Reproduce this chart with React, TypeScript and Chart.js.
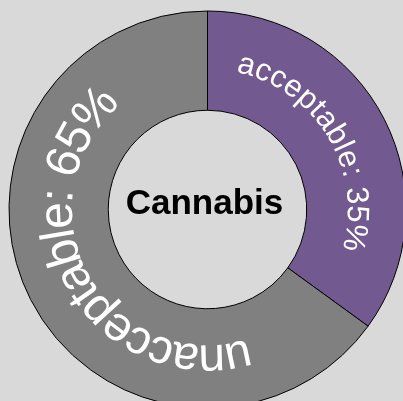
import React, { useEffect, useRef } from "react";
import { Chart, registerables } from "chart.js";

Chart.register(...registerables);

const categories = ["acceptable", "unacceptable"];
const values = [35, 65];
const colors = ["#72598f", "#808080"];
const labelFontSizes = [31, 48];
const labelSpacing = [1.1, 0];
const labelAngleShiftDeg = [-4, -1.5];
const centerTitle = "Cannabis";

const curvedLabels = {
  id: "curvedLabels",
  afterDatasetsDraw(chart: any) {
    const ctx = chart.ctx;
    const meta = chart.getDatasetMeta(0);
    meta.data.forEach((arc: any, i: number) => {
      const { x, y, startAngle, endAngle, innerRadius, outerRadius } = arc.getProps(
        ["x", "y", "startAngle", "endAngle", "innerRadius", "outerRadius"],
        true
      );
      const r = (innerRadius + outerRadius) / 2;
      const mid = (startAngle + endAngle) / 2 + (labelAngleShiftDeg[i] * Math.PI) / 180;
      const text = `${categories[i]}: ${values[i]}%`;
      const sp = labelSpacing[i];
      ctx.save();
      ctx.font = `${labelFontSizes[i]}px "Liberation Sans", Arial, sans-serif`;
      ctx.fillStyle = "#ffffff";
      ctx.textAlign = "center";
      ctx.textBaseline = "middle";
      const total = ctx.measureText(text).width + sp * (text.length - 1);
      const start = mid - total / 2 / r;
      for (let k = 0; k < text.length; k++) {
        const ch = text[k];
        const off = ctx.measureText(text.slice(0, k)).width + sp * k;
        const w = ctx.measureText(ch).width;
        const a = start + (off + w / 2) / r;
        ctx.save();
        ctx.translate(x + r * Math.cos(a), y + r * Math.sin(a));
        ctx.rotate(a + Math.PI / 2);
        ctx.fillText(ch, 0, 0);
        ctx.restore();
      }
      ctx.restore();
    });
    const first = meta.data[0];
    if (first) {
      ctx.save();
      ctx.font = `bold 35px "Liberation Sans", Arial, sans-serif`;
      ctx.fillStyle = "#000000";
      ctx.textAlign = "center";
      ctx.textBaseline = "alphabetic";
      ctx.fillText(centerTitle, first.x - 3, first.y + 4.5);
      ctx.restore();
    }
  },
};

export default function App() {
  const ref = useRef<HTMLCanvasElement | null>(null);
  useEffect(() => {
    if (!ref.current) return;
    const chart = new Chart(ref.current, {
      type: "doughnut",
      data: {
        labels: categories,
        datasets: [
          {
            data: values,
            backgroundColor: colors,
            borderColor: "#000000",
            borderWidth: 1,
          },
        ],
      },
      options: {
        responsive: false,
        animation: false,
        cutout: "50%",
        layout: { padding: { left: 8.5, right: 8.5, top: 10.5, bottom: 10.5 } },
        plugins: {
          legend: { display: false },
          tooltip: { enabled: false },
          title: { display: false },
        },
      },
      plugins: [curvedLabels],
    });
    return () => chart.destroy();
  }, []);
  return (
    <div
      style={{
        position: "fixed",
        left: 0,
        top: 0,
        width: 403,
        height: 401,
        overflow: "hidden",
        background: "#d9d9d9",
      }}
    >
      <canvas ref={ref} width={415} height={419} style={{ display: "block" }} />
    </div>
  );
}
